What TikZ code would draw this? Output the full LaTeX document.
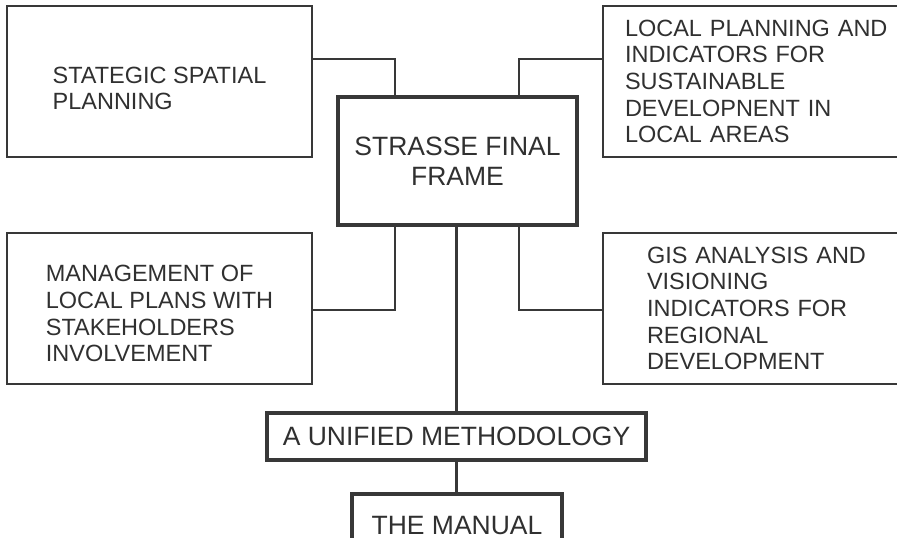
\documentclass[tikz,border=0pt]{standalone}
\usepackage{fontspec}
\setmainfont{Liberation Sans}
\definecolor{linec}{HTML}{383838}
\definecolor{textc}{HTML}{303030}
\begin{document}
\begin{tikzpicture}[x=1pt,y=-1pt,
  thinbox/.style={draw=linec, line width=2pt, rectangle, inner sep=0pt, text=textc},
  thickbox/.style={draw=linec, line width=3.5pt, rectangle, inner sep=0pt, text=textc},
  small/.style={font=\fontsize{23.5}{26.7}\selectfont, align=left},
  big/.style={font=\fontsize{26.5}{30}\selectfont, align=center},
  link/.style={draw=linec, line width=2pt},
  trunk/.style={draw=linec, line width=3pt}]
\useasboundingbox (0,0) rectangle (897,538);
\clip (0,0) rectangle (897,538);
\fill[white] (0,0) rectangle (897,538);

\node[thinbox, small, minimum width=305, minimum height=151] (tl) at (159.5,81.5)
  {\rule{0pt}{30pt}STATEGIC SPATIAL\\PLANNING};
\node[thinbox, small, text width=314, inner xsep=22, minimum height=151, anchor=west] (tr) at (602,81.5)
  {LOCAL PLANNING AND\\INDICATORS FOR\\SUSTAINABLE\\DEVELOPNENT IN\\LOCAL AREAS};
\node[thinbox, small, minimum width=305, minimum height=151] (ml) at (159.5,308.5)
  {\rule{0pt}{27pt}MANAGEMENT OF\\LOCAL PLANS WITH\\STAKEHOLDERS\\INVOLVEMENT};
\node[thinbox, small, text width=270, inner xsep=44, minimum height=151, anchor=west] (mr) at (602,308.5)
  {GIS ANALYSIS AND\\VISIONING\\INDICATORS FOR\\REGIONAL\\DEVELOPMENT};

\node[thickbox, big, minimum width=239, minimum height=128] (ctr) at (457.5,161)
  {STRASSE FINAL\\FRAME};
\node[thickbox, big, minimum width=379, minimum height=47] (uni) at (456.5,436.5)
  {A UNIFIED METHODOLOGY};
\node[thickbox, big, minimum width=210, minimum height=63, anchor=north] (man) at (457,492)
  {THE MANUAL};

\draw[link] ([yshift=22.5]tl.east) -| ([xshift=-62.5]ctr.north);
\draw[link] ([yshift=22.5]tr.west) -| ([xshift=61.5]ctr.north);
\draw[link] ([yshift=-1.5]ml.east) -| ([xshift=-62.5]ctr.south);
\draw[link] ([yshift=-1.5]mr.west) -| ([xshift=61.5]ctr.south);
\draw[trunk] ([xshift=-1]ctr.south) -- ([xshift=-1]ctr.south |- uni.north);
\draw[trunk] (uni.south) -- (uni.south |- man.north);
\end{tikzpicture}
\end{document}
